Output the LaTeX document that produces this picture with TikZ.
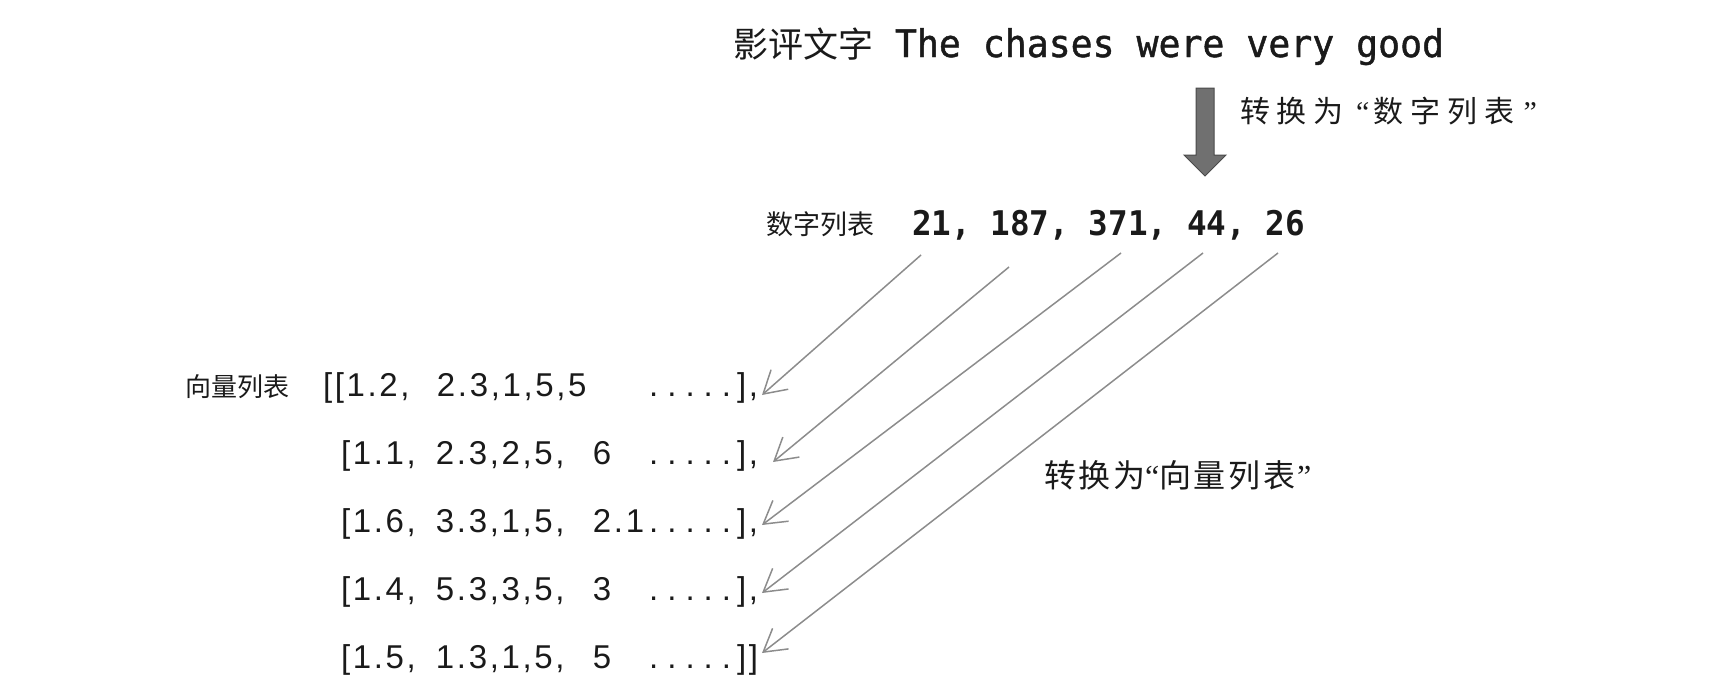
\documentclass[tikz,border=0pt]{standalone}
\usepackage{fontspec}
\usetikzlibrary{arrows.meta}
\newfontfamily\cjk{Noto Sans CJK SC}
\newfontfamily\cjksp[LetterSpace=23]{Noto Sans CJK SC}
\newfontfamily\cjkmid[LetterSpace=8]{Noto Sans CJK SC}
\newfontfamily\quotefont{Liberation Serif}
\newfontfamily\monofont[FakeStretch=0.96]{DejaVu Sans Mono}
\newfontfamily\monofontb[FakeStretch=0.96,FakeBold=1.2]{DejaVu Sans Mono}
\newfontfamily\rowfont[LetterSpace=8]{Liberation Sans}
\definecolor{arrowgray}{HTML}{8C8C8C}
\definecolor{bigfill}{HTML}{707070}
\definecolor{bigdraw}{HTML}{4A4A4A}
\definecolor{ink}{HTML}{1A1A1A}
\newcommand{\myLq}{{\quotefont “}}
\newcommand{\myRq}{{\kern2pt\quotefont ”}}
\newcommand{\wideLq}{\makebox[1em][r]{\quotefont “\kern0.15em}}
\newcommand{\wideRq}{\makebox[1em][l]{\kern0.3em\quotefont ”}}
\newcommand{\fivedots}{.\kern9pt.\kern9pt.\kern9pt.\kern9pt.\kern6pt}
\newcommand{\vrow}[4]{\makebox[417pt][l]{\makebox[95pt][l]{#1}\makebox[157pt][l]{#2}#3\hfill\fivedots#4}}
\begin{document}
\begin{tikzpicture}[x=1pt,y=-1pt,
  every node/.style={inner sep=0pt,outer sep=0pt,text=ink},
  cjklabel/.style={anchor=base west,font=\cjk\fontsize{27}{30}\selectfont},
  vecrow/.style={anchor=base west,font=\rowfont\fontsize{33}{36}\selectfont},
  thin arrow/.style={draw=arrowgray,line width=1.5pt,-{Straight Barb[length=22pt,width=26pt,line width=1.5pt]}},
  bigarrow/.style={fill=bigfill,draw=bigdraw,line width=1pt}]
\useasboundingbox (0,0) rectangle (1723,691);
% top line
\node[anchor=base west,font=\cjk\fontsize{35}{37}\selectfont] (toplabel) at (733,57) {影评文字};
\node[anchor=base west,font=\monofontb\fontsize{38}{40}\selectfont] (review) at (895,57) {The chases were very good};
% big arrow
\path[bigarrow] (1196,88) -- (1214,88) -- (1214,155) -- (1226,155) -- (1205,176) -- (1184,155) -- (1196,155) -- cycle;
\node[anchor=base west,font=\cjksp\fontsize{30}{32}\selectfont] (conv1) at (1240,122) {转换为\wideLq 数字列表\wideRq};
% number list
\node[cjklabel] (numlabel) at (766,234) {数字列表};
\node[anchor=base west,font=\monofont\bfseries\fontsize{34}{36}\selectfont] (nums) at (912,235) {21, 187, 371, 44, 26};
% vector list
\node[anchor=base west,font=\cjk\fontsize{26}{28}\selectfont] (veclabel) at (185,396) {向量列表};
\node[vecrow] (r1) at (323,396) {\makebox[435pt][l]{\makebox[114pt][l]{[[1.2,}2.3,1,5,5\hfill\fivedots],}};
\node[vecrow] (r2) at (341,464) {\vrow{[1.1,}{2.3,2,5,}{6}{],}};
\node[vecrow] (r3) at (341,532) {\vrow{[1.6,}{3.3,1,5,}{2.1}{],}};
\node[vecrow] (r4) at (341,600) {\vrow{[1.4,}{5.3,3,5,}{3}{],}};
\node[vecrow] (r5) at (341,668) {\vrow{[1.5,}{1.3,1,5,}{5}{]]}};
\node[anchor=base west,font=\cjkmid\fontsize{32}{34}\selectfont] (conv2) at (1044,487) {转换为\myLq 向量列表\myRq};
% thin arrows
\coordinate (s1) at (921,255);
\coordinate (s2) at (1009,267);
\coordinate (s3) at (1121,253);
\coordinate (s4) at (1203,253);
\coordinate (s5) at (1278,253);
\coordinate (e1) at (762,395);
\coordinate (e2) at (773,462);
\coordinate (e3) at (762,525);
\coordinate (e4) at (762,593);
\coordinate (e5) at (762,653);
\draw[thin arrow] (s1) -- (e1);
\draw[thin arrow] (s2) -- (e2);
\draw[thin arrow] (s3) -- (e3);
\draw[thin arrow] (s4) -- (e4);
\draw[thin arrow] (s5) -- (e5);
\end{tikzpicture}
\end{document}
